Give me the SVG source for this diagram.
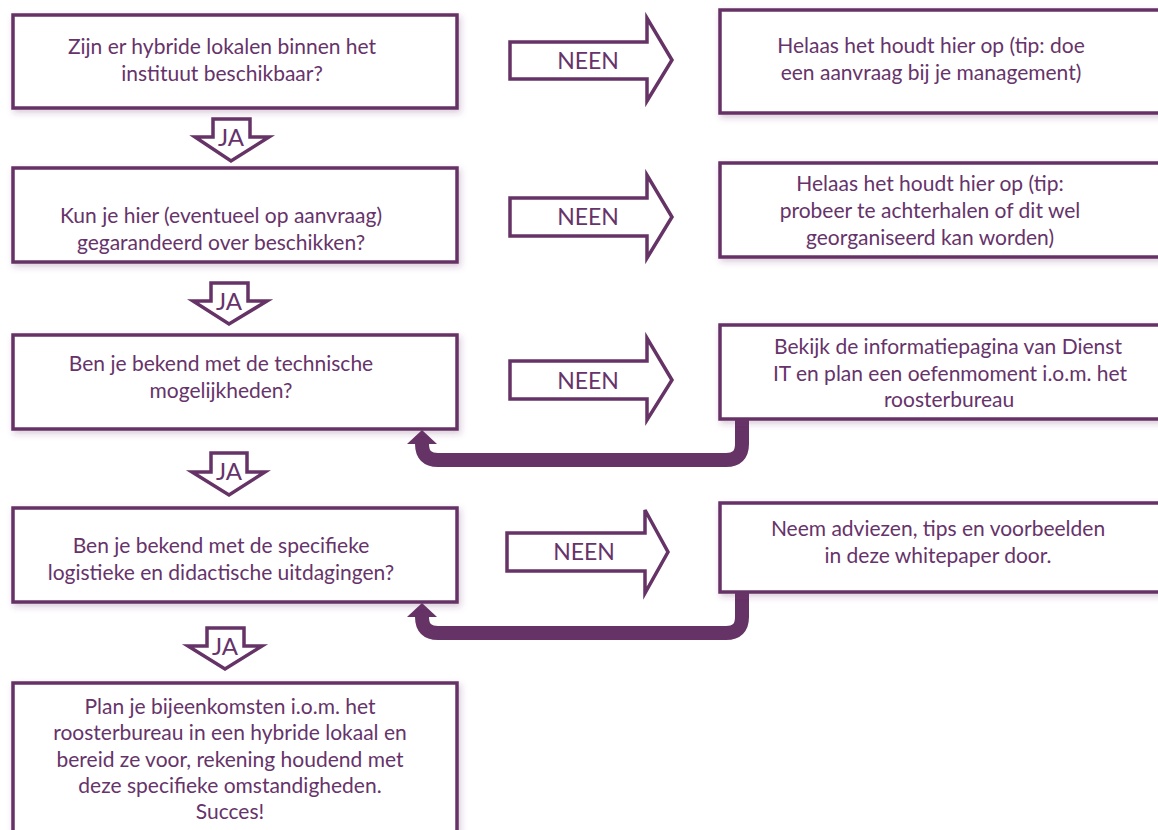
<svg xmlns="http://www.w3.org/2000/svg" width="1158" height="830" viewBox="0 0 1158 830">
<style>
.box{fill:#fff;stroke:#663366;stroke-width:3.5;filter:url(#sh)}
.arw{fill:#fff;stroke:#663366;stroke-width:3.5;stroke-linejoin:miter}
.t{font-family:Lato,"Open Sans",sans-serif;font-size:21px;fill:#66336a;text-anchor:middle}
.lbl{font-family:Lato,"Open Sans",sans-serif;font-size:23px;fill:#66336a;text-anchor:middle}
.ja{font-family:Lato,"Open Sans",sans-serif;font-size:24px;fill:#66336a;text-anchor:middle}
.fb{fill:none;stroke:#663366;stroke-width:14}
.fbh{fill:#663366}
</style>
<defs>
<filter id="sh" x="-5%" y="-10%" width="110%" height="125%">
<feDropShadow dx="2" dy="3" stdDeviation="3" flood-color="#663366" flood-opacity="0.25"/>
</filter>
</defs>
<g id="connectors">
<g id="ja1"><polygon class="arw" points="213,119 250,119 250,137 269,137 231,161 195,137 213,137"/><text class="ja" x="231" y="146">JA</text></g>
<g id="ja2"><polygon class="arw" points="211,283 248,283 248,301 267,301 229,324 193,301 211,301"/><text class="ja" x="229" y="310">JA</text></g>
<g id="ja3"><polygon class="arw" points="211,453 247,453 247,472 265,472 229,495 192,472 211,472"/><text class="ja" x="229" y="480">JA</text></g>
<g id="ja4"><polygon class="arw" points="207,628 244,628 244,646 262,646 225,669 188,646 207,646"/><text class="ja" x="225" y="655">JA</text></g>
<g id="neen1"><polygon class="arw" points="510,42 647,42 647,18 672,60 647,101 647,79 510,79"/><text class="lbl" x="588" y="69">NEEN</text></g>
<g id="neen2"><polygon class="arw" points="510,198 647,198 647,175 672,217 647,258 647,236 510,236"/><text class="lbl" x="588" y="225">NEEN</text></g>
<g id="neen3"><polygon class="arw" points="510,361 647,361 647,338 672,380 647,420 647,399 510,399"/><text class="lbl" x="588" y="389">NEEN</text></g>
<g id="neen4"><polygon class="arw" points="507,533 645,533 645,510 668,552 645,593 645,571 507,571"/><text class="lbl" x="584" y="560">NEEN</text></g>
<g id="fb1"><path class="fb" d="M742,417 V444 Q742,460 726,460 H438 Q422,460 422,444 V441"/><polygon class="fbh" points="422,430 437,444 407,444"/></g>
<g id="fb2"><path class="fb" d="M742,590 V617 Q742,633 726,633 H438 Q422,633 422,617 V614"/><polygon class="fbh" points="422,603 437,617 407,617"/></g>
</g>
<g id="q1"><rect class="box" x="13" y="15" width="444" height="93"/><text class="t" x="222" y="54">Zijn er hybride lokalen binnen het</text><text class="t" x="222" y="81">instituut beschikbaar?</text></g>
<g id="q2"><rect class="box" x="13" y="168" width="444" height="94"/><text class="t" x="221" y="223">Kun je hier (eventueel op aanvraag)</text><text class="t" x="221" y="250">gegarandeerd over beschikken?</text></g>
<g id="q3"><rect class="box" x="13" y="335" width="444" height="94"/><text class="t" x="221" y="371">Ben je bekend met de technische</text><text class="t" x="221" y="398">mogelijkheden?</text></g>
<g id="q4"><rect class="box" x="13" y="508" width="444" height="94"/><text class="t" x="221" y="553">Ben je bekend met de specifieke</text><text class="t" x="221" y="580">logistieke en didactische uitdagingen?</text></g>
<g id="end"><rect class="box" x="13" y="683" width="444" height="160"/><text class="t" x="230" y="714">Plan je bijeenkomsten i.o.m. het</text><text class="t" x="230" y="740">roosterbureau in een hybride lokaal en</text><text class="t" x="230" y="767">bereid ze voor, rekening houdend met</text><text class="t" x="230" y="793">deze specifieke omstandigheden.</text><text class="t" x="230" y="819">Succes!</text></g>
<g id="r1"><rect class="box" x="720" y="10" width="445" height="103"/><text class="t" x="931" y="53">Helaas het houdt hier op (tip: doe</text><text class="t" x="931" y="80">een aanvraag bij je management)</text></g>
<g id="r2"><rect class="box" x="720" y="163" width="445" height="94"/><text class="t" x="930" y="191">Helaas het houdt hier op (tip:</text><text class="t" x="930" y="218">probeer te achterhalen of dit wel</text><text class="t" x="930" y="245">georganiseerd kan worden)</text></g>
<g id="r3"><rect class="box" x="720" y="325" width="445" height="94"/><text class="t" x="948" y="354">Bekijk de informatiepagina van Dienst</text><text class="t" x="950" y="381">IT en plan een oefenmoment i.o.m. het</text><text class="t" x="949" y="407">roosterbureau</text></g>
<g id="r4"><rect class="box" x="720" y="503" width="445" height="89"/><text class="t" x="938" y="536">Neem adviezen, tips en voorbeelden</text><text class="t" x="938" y="563">in deze whitepaper door.</text></g>
</svg>
